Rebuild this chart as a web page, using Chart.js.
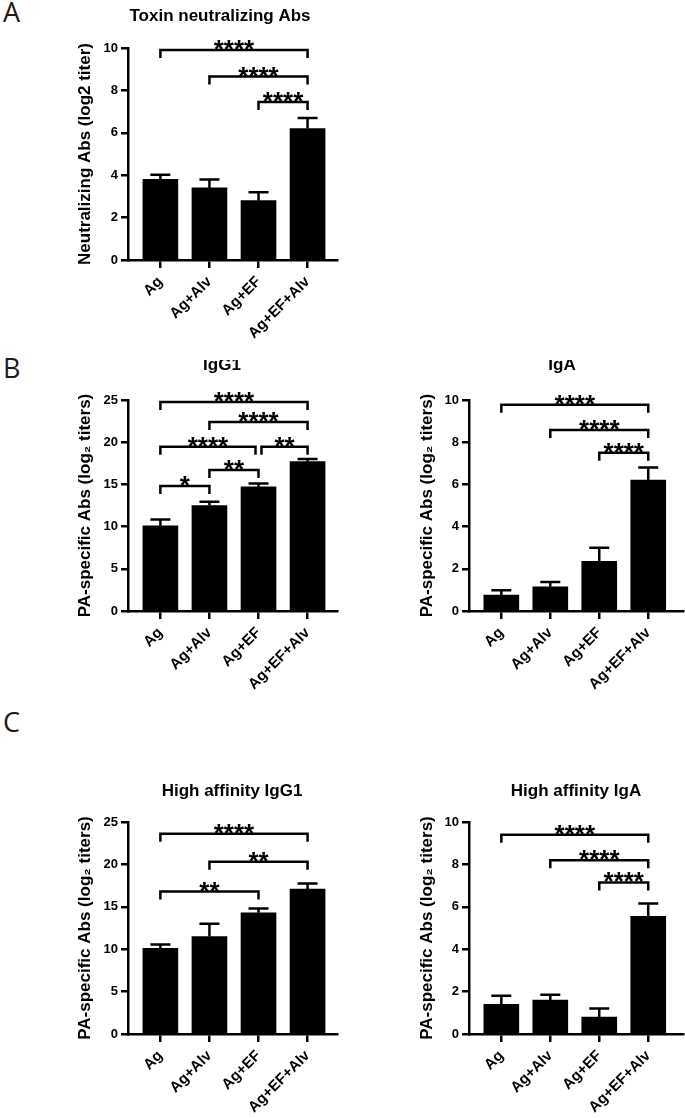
<!DOCTYPE html>
<html><head><meta charset="utf-8">
<script src="https://cdn.jsdelivr.net/npm/chart.js@4.4.0/dist/chart.umd.min.js"></script>
<style>
html,body{margin:0;padding:0;background:#fff;}
body{width:685px;height:1118px;position:relative;overflow:hidden;}
.panel{position:absolute;}
.panel canvas{display:block;}
.letter{position:absolute;font-family:"Open Sans",sans-serif;font-weight:400;font-size:27px;color:#1a1a1a;line-height:1;}
</style></head><body>
<div class="letter" style="left:3px;top:-2px">A</div>
<div class="letter" style="left:3px;top:354px">B</div>
<div class="letter" style="left:3px;top:708px">C</div>
<div class="panel" style="left:0;top:0"><canvas id="cA" width="345" height="350"></canvas></div>
<div class="panel" style="left:0;top:360px"><canvas id="cB1" width="345" height="350"></canvas></div>
<div class="panel" style="left:345px;top:360px"><canvas id="cB2" width="340" height="350"></canvas></div>
<div class="panel" style="left:0;top:730px"><canvas id="cC1" width="345" height="388"></canvas></div>
<div class="panel" style="left:345px;top:730px"><canvas id="cC2" width="340" height="388"></canvas></div>
<script>
// ---- data ----
const categories = ['Ag', 'Ag+Alv', 'Ag+EF', 'Ag+EF+Alv'];

const neutMean = [3.8, 3.4, 2.8, 6.2];
const neutSem  = [0.22, 0.4, 0.4, 0.5];
const neutSig  = [[0, 3, 9.9, '****'], [1, 3, 8.65, '****'], [2, 3, 7.45, '****']];

const igg1Mean = [10.1, 12.5, 14.7, 17.7];
const igg1Sem  = [0.75, 0.45, 0.4, 0.3];
const igg1Sig  = [[0, 3, 24.75, '****'], [1, 3, 22.4, '****'], [0, 2, 19.45, '****'], [2, 3, 19.45, '**'], [1, 2, 16.7, '**'], [0, 1, 14.8, '*']];

const igaMean = [0.75, 1.15, 2.35, 6.2];
const igaSem  = [0.23, 0.23, 0.65, 0.6];
const igaSig  = [[0, 3, 9.78, '****'], [1, 3, 8.58, '****'], [2, 3, 7.5, '****']];

const hiIgg1Mean = [10.1, 11.5, 14.3, 17.1];
const hiIgg1Sem  = [0.45, 1.5, 0.5, 0.65];
const hiIgg1Sig  = [[0, 3, 23.6, '****'], [1, 3, 20.3, '**'], [0, 2, 16.8, '**']];

const hiIgaMean = [1.4, 1.6, 0.8, 5.55];
const hiIgaSem  = [0.4, 0.25, 0.4, 0.6];
const hiIgaSig  = [[0, 3, 9.4, '****'], [1, 3, 8.2, '****'], [2, 3, 7.15, '****']];

const yTicks10 = [0, 2, 4, 6, 8, 10];
const yTicks25 = [0, 5, 10, 15, 20, 25];

const titleNeut = 'Toxin neutralizing Abs';
const titleIgg1 = 'IgG1';
const titleIga = 'IgA';
const titleHiIgg1 = 'High affinity IgG1';
const titleHiIga = 'High affinity IgA';
const yLabelNeut = 'Neutralizing Abs (log2 titer)';
const yLabelPA = 'PA-specific Abs (log\u2082 titers)';

// ---- rendering ----
const FONT = '"Liberation Sans", Arial, Helvetica, sans-serif';
Chart.defaults.font.family = FONT;
Chart.defaults.color = '#000';

const decor = {
  id: 'decor',
  afterDatasetsDraw(chart, args, o) {
    const ctx = chart.ctx, xs = chart.scales.x, ys = chart.scales.y;
    ctx.save();
    ctx.strokeStyle = '#000';
    ctx.fillStyle = '#000';
    ctx.lineWidth = 2.5;
    ctx.lineJoin = 'miter';
    ctx.lineCap = 'butt';
    o.mean.forEach((m, i) => {
      const px = xs.getPixelForValue(i);
      const y0 = ys.getPixelForValue(m);
      const y1 = ys.getPixelForValue(m + o.sem[i]);
      ctx.beginPath();
      ctx.moveTo(px, y0); ctx.lineTo(px, y1);
      ctx.moveTo(px - 10, y1); ctx.lineTo(px + 10, y1);
      ctx.stroke();
    });
    ctx.textAlign = 'center';
    ctx.textBaseline = 'alphabetic';
    o.sig.forEach(s => {
      const [a, b, lvl, lab] = s;
      let xa = xs.getPixelForValue(a), xb = xs.getPixelForValue(b);
      if (o.sig.some(t => t !== s && t[2] === lvl && t[1] === a)) xa += 3;
      if (o.sig.some(t => t !== s && t[2] === lvl && t[0] === b)) xb -= 3;
      const py = ys.getPixelForValue(lvl);
      ctx.beginPath();
      ctx.moveTo(xa, py + 8); ctx.lineTo(xa, py); ctx.lineTo(xb, py); ctx.lineTo(xb, py + 8);
      ctx.stroke();
      ctx.font = 'bold 26px ' + FONT;
      ctx.fillText(lab, (xa + xb) / 2, py + 8);
    });
    ctx.font = 'bold 17px ' + FONT;
    ctx.fillText(o.title, o.titleX, o.titleY);
    ctx.restore();
  }
};

function makePanel(id, p) {
  const tickFont = {family: FONT, size: 13, weight: 'bold'};
  new Chart(document.getElementById(id), {
    type: 'bar',
    data: {
      datasets: [{
        data: p.mean.map((v, i) => ({x: i, y: v})),
        backgroundColor: '#000',
        borderColor: '#000',
        borderWidth: 0,
        barThickness: 35
      }]
    },
    options: {
      responsive: false,
      animation: false,
      devicePixelRatio: 1,
      layout: {padding: {top: p.top, left: 0, right: p.right, bottom: 0}},
      plugins: {
        legend: {display: false},
        tooltip: {enabled: false},
        decor: {mean: p.mean, sem: p.sem, sig: p.sig, title: p.title, titleX: p.titleX, titleY: p.titleY}
      },
      scales: {
        x: {
          type: 'linear', min: -0.66, max: p.xMax, offset: false,
          afterBuildTicks: s => { s.ticks = categories.map((c, i) => ({value: i})); },
          ticks: {callback: v => categories[v], minRotation: 45, maxRotation: 45, autoSkip: false,
                  font: {family: FONT, size: 15, weight: 'bold'}, color: '#000', padding: 5},
          grid: {display: true, offset: false, drawOnChartArea: false, drawTicks: true, tickLength: 8, color: '#000', lineWidth: 2.5},
          border: {display: true, color: '#000', width: 2.5},
          afterFit: s => { s.height = p.xH; }
        },
        y: {
          min: 0, max: p.yMax,
          afterBuildTicks: s => { s.ticks = p.yTicks.map(v => ({value: v})); },
          ticks: {font: tickFont, color: '#000', padding: 3},
          grid: {display: true, drawOnChartArea: false, drawTicks: true, tickLength: 7, color: '#000', lineWidth: 2.5},
          border: {display: true, color: '#000', width: 2.5},
          title: {display: true, text: p.yLabel, color: '#000',
                  font: {family: FONT, size: 17, weight: 'bold'}, padding: {top: p.yTitlePad, bottom: 0}},
          afterFit: s => { s.width = p.yW; }
        }
      }
    },
    plugins: [decor]
  });
}

makePanel('cA', {mean: neutMean, sem: neutSem, sig: neutSig, title: titleNeut, titleX: 220, titleY: 21,
  yLabel: yLabelNeut, yTicks: yTicks10, yMax: 10, top: 48, right: 8, xH: 90, yW: 128, yTitlePad: 75, xMax: 3.6});
makePanel('cB1', {mean: igg1Mean, sem: igg1Sem, sig: igg1Sig, title: titleIgg1, titleX: 222, titleY: 10,
  yLabel: yLabelPA, yTicks: yTicks25, yMax: 25, top: 40, right: 8, xH: 99, yW: 128, yTitlePad: 75, xMax: 3.6});
makePanel('cB2', {mean: igaMean, sem: igaSem, sig: igaSig, title: titleIga, titleX: 217, titleY: 10,
  yLabel: yLabelPA, yTicks: yTicks10, yMax: 10, top: 40, right: 2, xH: 99, yW: 124, yTitlePad: 72, xMax: 3.71});
makePanel('cC1', {mean: hiIgg1Mean, sem: hiIgg1Sem, sig: hiIgg1Sig, title: titleHiIgg1, titleX: 232, titleY: 66,
  yLabel: yLabelPA, yTicks: yTicks25, yMax: 25, top: 92, right: 8, xH: 84, yW: 128, yTitlePad: 75, xMax: 3.6});
makePanel('cC2', {mean: hiIgaMean, sem: hiIgaSem, sig: hiIgaSig, title: titleHiIga, titleX: 231, titleY: 66,
  yLabel: yLabelPA, yTicks: yTicks10, yMax: 10, top: 92, right: 2, xH: 84, yW: 124, yTitlePad: 72, xMax: 3.71});
</script>
</body></html>
